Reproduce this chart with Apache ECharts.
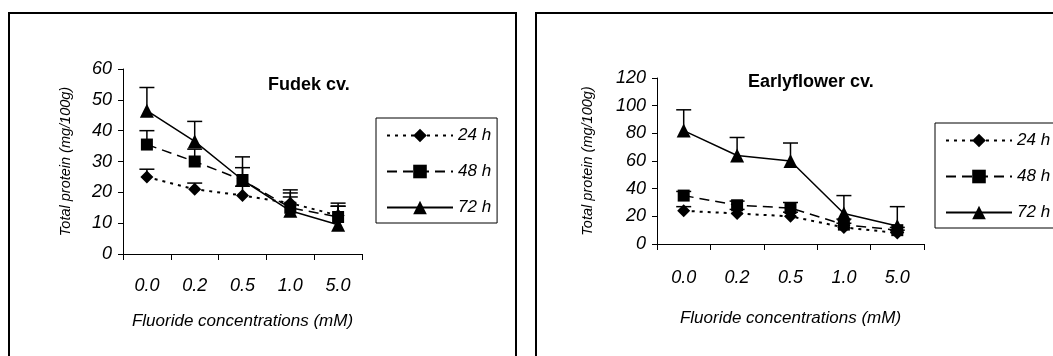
<!DOCTYPE html>
<html>
<head>
<meta charset="utf-8">
<script src="https://cdn.jsdelivr.net/npm/echarts@6/dist/echarts.min.js"></script>
<style>
html,body{margin:0;padding:0;background:#fff;}
#c{width:1053px;height:356px;}
</style>
</head>
<body>
<div id="c"></div>
<script>
const categories = ['0.0', '0.2', '0.5', '1.0', '5.0'];
const seriesNames = ['24 h', '48 h', '72 h'];

const fudek24 = [25, 21, 19, 16.5, 12.5];
const fudek24Top = [27.5, 23, 22, 18.5, 15.5];
const fudek48 = [35.5, 30, 24, 15, 12];
const fudek48Top = [40, 34, 28, 19.8, 15.5];
const fudek72 = [46.5, 36.5, 24, 14, 9.5];
const fudek72Top = [54, 43, 31.5, 20.8, 16.5];

const early24 = [24, 22, 20, 12, 8];
const early24Top = [27, 25, 23, 15, 10];
const early48 = [35, 28, 26, 14, 10];
const early48Top = [38, 31, 30, 18, 12];
const early72 = [82, 64, 60, 22, 13];
const early72Top = [97, 77, 73, 35, 27];

const fudekTicks = [0, 60, 10];
const earlyTicks = [0, 120, 20];

const font = 'Liberation Sans, Arial, sans-serif';
const styles = [
  {symbol: 'diamond', symbolSize: 13, lineStyle: {color: '#000', width: 2, type: [3, 5]}},
  {symbol: 'rect', symbolSize: 12, lineStyle: {color: '#000', width: 1.5, type: [10, 6]}},
  {symbol: 'triangle', symbolSize: 14, lineStyle: {color: '#000', width: 1.5, type: 'solid'}}
];

function lineSeries(name, idx, data, axisIdx) {
  const s = styles[idx];
  return {
    type: 'line', name: name, xAxisIndex: axisIdx, yAxisIndex: axisIdx,
    data: data, symbol: s.symbol, symbolSize: s.symbolSize,
    itemStyle: {color: '#000'}, lineStyle: s.lineStyle,
    z: 3, animation: false, silent: true
  };
}
function errSeries(vals, tops, axisIdx) {
  return {
    type: 'custom', xAxisIndex: axisIdx, yAxisIndex: axisIdx, z: 2,
    animation: false, silent: true,
    data: vals.map((v, i) => [i, v, tops[i]]),
    renderItem: function (params, api) {
      const p0 = api.coord([api.value(0), api.value(1)]);
      const p1 = api.coord([api.value(0), api.value(2)]);
      const hw = 7.5;
      return {
        type: 'group',
        children: [
          {type: 'line', shape: {x1: p0[0], y1: p0[1], x2: p1[0], y2: p1[1]}, style: {stroke: '#000', lineWidth: 1.5}},
          {type: 'line', shape: {x1: p1[0] - hw, y1: p1[1], x2: p1[0] + hw, y2: p1[1]}, style: {stroke: '#000', lineWidth: 1.5}}
        ]
      };
    }
  };
}
function xAxis(gi) {
  return {
    type: 'category', gridIndex: gi, data: categories, boundaryGap: true,
    axisLine: {lineStyle: {color: '#000', width: 1}},
    axisTick: {show: true, length: 6, lineStyle: {color: '#000'}},
    axisLabel: {color: '#000', fontStyle: 'italic', fontSize: 18, fontFamily: font, margin: gi === 0 ? 23 : 25},
    name: 'Fluoride concentrations (mM)', nameLocation: 'middle', nameGap: gi === 0 ? 59 : 66,
    nameTextStyle: {color: '#000', fontStyle: 'italic', fontSize: 17, fontFamily: font},
    splitLine: {show: false}
  };
}
function yAxis(gi, t) {
  return {
    type: 'value', gridIndex: gi, min: t[0], max: t[1], interval: t[2],
    axisLine: {show: true, lineStyle: {color: '#000', width: 1}},
    axisTick: {show: true, length: 5, lineStyle: {color: '#000'}},
    axisLabel: {color: '#000', fontStyle: 'italic', fontSize: 18, fontFamily: font, margin: 11},
    splitLine: {show: false},
    name: 'Total protein (mg/100g)', nameLocation: 'middle', nameGap: gi === 0 ? 50 : 62,
    nameTextStyle: {color: '#000', fontStyle: 'italic', fontSize: 14.5, fontFamily: font}
  };
}
function legend(left, top) {
  return {
    left: left, top: top, orient: 'vertical', selectedMode: false,
    data: seriesNames, borderColor: '#000', borderWidth: 1,
    padding: [9, 6, 7, 10], itemWidth: 66, itemHeight: 17, itemGap: 19,
    textStyle: {color: '#000', fontStyle: 'italic', fontSize: 17, fontFamily: font},
    backgroundColor: '#fff'
  };
}

const chart = echarts.init(document.getElementById('c'), null, {renderer: 'canvas'});
chart.setOption({
  backgroundColor: '#fff',
  animation: false,
  graphic: [
    {type: 'rect', shape: {x: 9, y: 13, width: 507, height: 400}, style: {fill: 'none', stroke: '#000', lineWidth: 2}, silent: true},
    {type: 'rect', shape: {x: 536, y: 13, width: 600, height: 400}, style: {fill: 'none', stroke: '#000', lineWidth: 2}, silent: true}
  ],
  title: [
    {text: 'Fudek cv.', left: 268, top: 76, textStyle: {fontSize: 18, fontWeight: 'bold', fontFamily: font, color: '#000'}, padding: 0},
    {text: 'Earlyflower cv.', left: 748, top: 73, textStyle: {fontSize: 18, fontWeight: 'bold', fontFamily: font, color: '#000'}, padding: 0}
  ],
  legend: [legend(376, 118), legend(935, 123)],
  grid: [
    {left: 123, top: 69, width: 239, height: 185},
    {left: 657, top: 78, width: 267, height: 166}
  ],
  xAxis: [xAxis(0), xAxis(1)],
  yAxis: [yAxis(0, fudekTicks), yAxis(1, earlyTicks)],
  series: [
    errSeries(fudek24, fudek24Top, 0),
    errSeries(fudek48, fudek48Top, 0),
    errSeries(fudek72, fudek72Top, 0),
    lineSeries('24 h', 0, fudek24, 0),
    lineSeries('48 h', 1, fudek48, 0),
    lineSeries('72 h', 2, fudek72, 0),
    errSeries(early24, early24Top, 1),
    errSeries(early48, early48Top, 1),
    errSeries(early72, early72Top, 1),
    lineSeries('24 h', 0, early24, 1),
    lineSeries('48 h', 1, early48, 1),
    lineSeries('72 h', 2, early72, 1)
  ]
});
</script>
</body>
</html>
